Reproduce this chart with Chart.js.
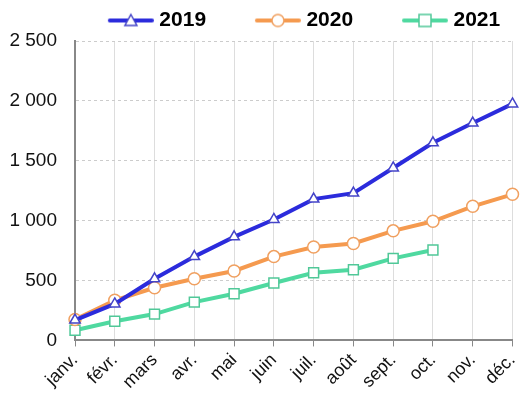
<!DOCTYPE html>
<html><head><meta charset="utf-8">
<script src="https://cdn.jsdelivr.net/npm/chart.js@4/dist/chart.umd.min.js"></script>
<style>html,body{margin:0;padding:0;background:#fff;}#w{width:521px;height:396px;}</style>
</head><body><div id="w"><canvas id="c"></canvas></div>
<script>
const categories = ['janv.','févr.','mars','avr.','mai','juin','juil.','août','sept.','oct.','nov.','déc.'];
const seriesNames = ['2019','2020','2021'];
const values2019 = [170,305,515,700,865,1010,1180,1230,1440,1650,1815,1975];
const values2020 = [175,335,440,515,580,700,780,810,915,995,1120,1220];
const values2021 = [85,160,220,320,390,480,565,590,685,755];
const yTicks = [0,500,1000,1500,2000,2500];

const colors = ['#2b2bdc','#f59a4f','#4fd9a0'];
const borders = ['#4444c8','#f0a060','#50c898'];
const styles = ['triangle','circle','rect'];

const BOX_W = 74, ICON_W = 84;
function legendIcon(i){
  const c = document.createElement('canvas');
  c.width = ICON_W; c.height = 18;
  const x = c.getContext('2d');
  const o = ICON_W - 46;
  x.strokeStyle = colors[i]; x.lineWidth = 4; x.lineCap='round';
  x.beginPath(); x.moveTo(o+2,9); x.lineTo(o+44,9); x.stroke();
  x.fillStyle = '#fff'; x.strokeStyle = borders[i]; x.lineWidth = 1.5;
  x.beginPath();
  const cx = o+23;
  if (styles[i]==='triangle'){ x.moveTo(cx,3); x.lineTo(cx+6,14); x.lineTo(cx-6,14); x.closePath(); }
  else if (styles[i]==='circle'){ x.arc(cx,9,6,0,Math.PI*2); }
  else { x.rect(cx-6,3,12,12); }
  x.fill(); x.stroke();
  return c;
}

const data = [values2019, values2020, values2021];
const ds = seriesNames.map((n,i)=>({
  label:n, data:data[i], borderColor:colors[i], backgroundColor:'#fff',
  borderWidth:4, pointStyle:styles[i], pointRadius: styles[i]==='rect'?7:6,
  pointBorderColor:borders[i], pointBackgroundColor:'#fff', pointBorderWidth:1.5,
  tension:0, clip:false
}));

new Chart(document.getElementById('c'),{
  type:'line',
  data:{labels:categories, datasets:ds},
  options:{
    responsive:true, maintainAspectRatio:false, animation:false,
    layout:{padding:{right:5,left:0,top:0}},
    plugins:{
      tooltip:{enabled:false},
      legend:{position:'top', align:'end',
        labels:{
          usePointStyle:true, pointStyleWidth:BOX_W, boxHeight:18, padding:10,
          font:{family:'Liberation Sans', size:21, weight:'bold'}, color:'#111',
          generateLabels:(chart)=>chart.data.datasets.map((d,i)=>({
            text:d.label+' ', pointStyle:legendIcon(i), datasetIndex:i, hidden:false,
            fillStyle:'#fff', strokeStyle:colors[i], lineWidth:0
          }))
        }
      }
    },
    scales:{
      x:{offset:false,
        afterFit:(s)=>{s.paddingRight=0; s.paddingLeft=0;},
        grid:{color:'#dddddd', drawTicks:true, tickLength:6, tickColor:'#888'},
        border:{color:'#888', width:2},
        ticks:{minRotation:45,maxRotation:45, color:'#111', font:{family:'Liberation Sans', size:18}}
      },
      y:{min:0,max:2500,
        afterBuildTicks:(s)=>{s.ticks = yTicks.map(v=>({value:v}));},
        afterFit:(s)=>{s.width=75;},
        grid:{color:'#cccccc', drawTicks:false},
        border:{color:'#888', width:2, dash:[3,3]},
        ticks:{padding:18, color:'#111', font:{family:'Liberation Sans', size:19},
          callback:(v)=>String(v).replace(/\B(?=(\d{3})+(?!\d))/g,' ')}
      }
    }
  }
});
</script>
</body></html>
